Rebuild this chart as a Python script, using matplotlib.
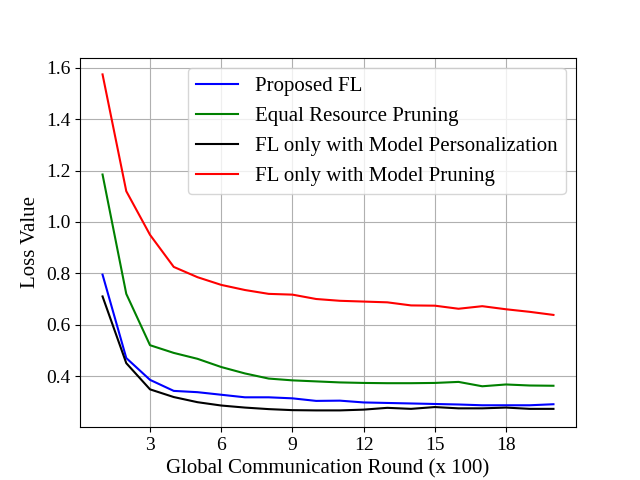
import numpy as np
import matplotlib
matplotlib.use('Agg')
import matplotlib.pyplot as plt

plt.rcParams['font.family'] = ['Liberation Serif', 'DejaVu Serif']

rounds = np.arange(1, 21)

# loss values
proposed = [0.795, 0.47, 0.385, 0.342, 0.337, 0.327, 0.317, 0.317, 0.313, 0.303,
            0.304, 0.297, 0.295, 0.293, 0.291, 0.289, 0.286, 0.286, 0.286, 0.290]
equal_res = [1.185, 0.72, 0.52, 0.49, 0.467, 0.435, 0.41, 0.39, 0.383, 0.379,
             0.375, 0.373, 0.372, 0.372, 0.373, 0.377, 0.360, 0.367, 0.363, 0.362]
personal = [0.71, 0.45, 0.348, 0.318, 0.298, 0.285, 0.277, 0.271, 0.267, 0.266,
            0.266, 0.269, 0.276, 0.272, 0.279, 0.274, 0.274, 0.277, 0.272, 0.272]
pruning = [1.575, 1.12, 0.95, 0.825, 0.785, 0.755, 0.735, 0.72, 0.717, 0.70,
           0.693, 0.69, 0.687, 0.675, 0.674, 0.662, 0.672, 0.66, 0.65, 0.638]

fig, ax = plt.subplots(figsize=(6.4, 4.8), dpi=100)
ax.plot(rounds, proposed, color='blue', label='Proposed FL')
ax.plot(rounds, equal_res, color='green', label='Equal Resource Pruning')
ax.plot(rounds, personal, color='black', label='FL only with Model Personalization')
ax.plot(rounds, pruning, color='red', label='FL only with Model Pruning')

ax.set_xticks([3, 6, 9, 12, 15, 18])
ax.set_xlabel('Global Communication Round (x 100)', fontsize=15)
ax.set_ylabel('Loss Value', fontsize=15)
ax.tick_params(labelsize=14)
ax.grid(True)
ax.legend(loc='upper right', fontsize=15)

plt.savefig('out.png')
